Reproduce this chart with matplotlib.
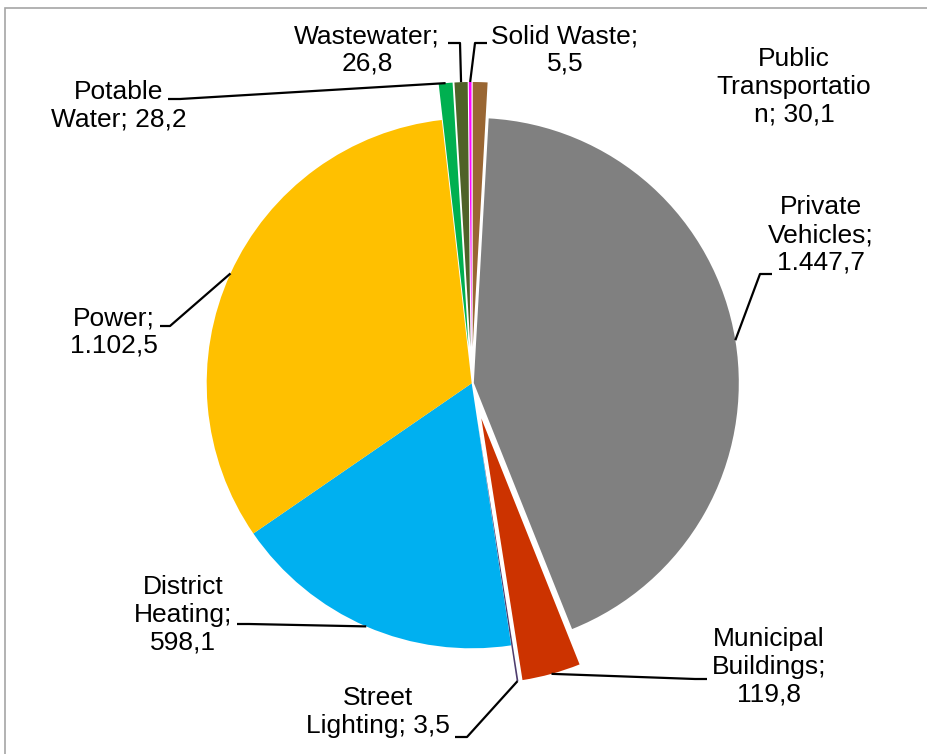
import matplotlib
matplotlib.use("Agg")
import matplotlib.pyplot as plt
import numpy as np
from matplotlib.patches import Rectangle

# --- data -------------------------------------------------------------
categories = ["Public Transportation", "Private Vehicles", "Municipal Buildings",
              "Street Lighting", "District Heating", "Power",
              "Potable Water", "Wastewater", "Solid Waste"]
values = [30.1, 1447.7, 119.8, 3.5, 598.1, 1102.5, 28.2, 26.8, 5.5]

# wrapped label text ({v} is replaced by the formatted value)
label_templates = ["Public\nTransportatio\nn; {v}", "Private\nVehicles;\n{v}",
                   "Municipal\nBuildings;\n{v}", "Street\nLighting; {v}",
                   "District\nHeating;\n{v}", "Power;\n{v}", "Potable\nWater; {v}",
                   "Wastewater;\n{v}", "Solid Waste;\n{v}"]

colors = ["#996633", "#808080", "#CC3300", "#4E3D6E", "#00B0F0",
          "#FFC000", "#00B050", "#4F6228", "#FF00FF"]
# explode as a fraction of the radius
explode = [0.137, 0.008, 0.137, 0.137, 0.0, 0.0, 0.137, 0.137, 0.137]

# --- layout (pixel coordinates, origin at top-left) ------------------
W, H = 927, 754
pie_center = (471.7, 383.3)
pie_radius = 265

# label centres
label_pos = [(794, 87), (821, 235), (769, 667), (378, 712), (183, 615),
             (114, 332), (119, 106), (367, 50), (565, 50)]
# leader lines: (start next to the label, elbow) ; None = no leader
leader_pts = [None,
              ((772, 274), (760, 274)),
              ((707, 679), (695, 679)),
              ((455, 737), (467, 737)),
              ((237, 624), (249, 624)),
              ((160, 326), (170, 326)),
              ((168, 99), (180, 99)),
              ((448, 43), (460, 43)),
              ((487, 43), (475, 43))]


def fmt(v):
    s = f"{v:,.1f}"
    return s.replace(",", "X").replace(".", ",").replace("X", ".")


def to_ax(p):
    return (p[0], H - p[1])


fig = plt.figure(figsize=(W / 100, H / 100), dpi=100)
ax = fig.add_axes([0, 0, 1, 1])

wedges, _ = ax.pie(values, explode=[e * pie_radius for e in explode],
                   colors=colors, startangle=90, counterclock=False,
                   center=to_ax(pie_center), radius=pie_radius,
                   wedgeprops=dict(linewidth=0))
ax.set_xlim(0, W)
ax.set_ylim(0, H)
ax.set_aspect("equal")
ax.axis("off")

font = dict(family=["Liberation Sans", "DejaVu Sans"], size=19)

for w, tpl, v, pos, lp in zip(wedges, label_templates, values, label_pos, leader_pts):
    ax.text(*to_ax(pos), tpl.format(v=fmt(v)), ha="center", va="center",
            linespacing=1.2, color="black", **font)
    if lp is None:
        continue
    theta = np.deg2rad((w.theta1 + w.theta2) / 2)
    end = (w.center[0] + w.r * np.cos(theta), w.center[1] + w.r * np.sin(theta))
    p0, p1 = to_ax(lp[0]), to_ax(lp[1])
    ax.plot([p0[0], p1[0], end[0]], [p0[1], p1[1], end[1]],
            color="black", lw=1.6, solid_capstyle="butt")

# chart-area frame
fig.patches.append(Rectangle((5 / W, -0.1), 1.2, (H - 8) / H + 0.1,
                             transform=fig.transFigure, fill=False,
                             edgecolor="#A6A6A6", lw=1.2))

fig.savefig("out.png", dpi=100, facecolor="white")
